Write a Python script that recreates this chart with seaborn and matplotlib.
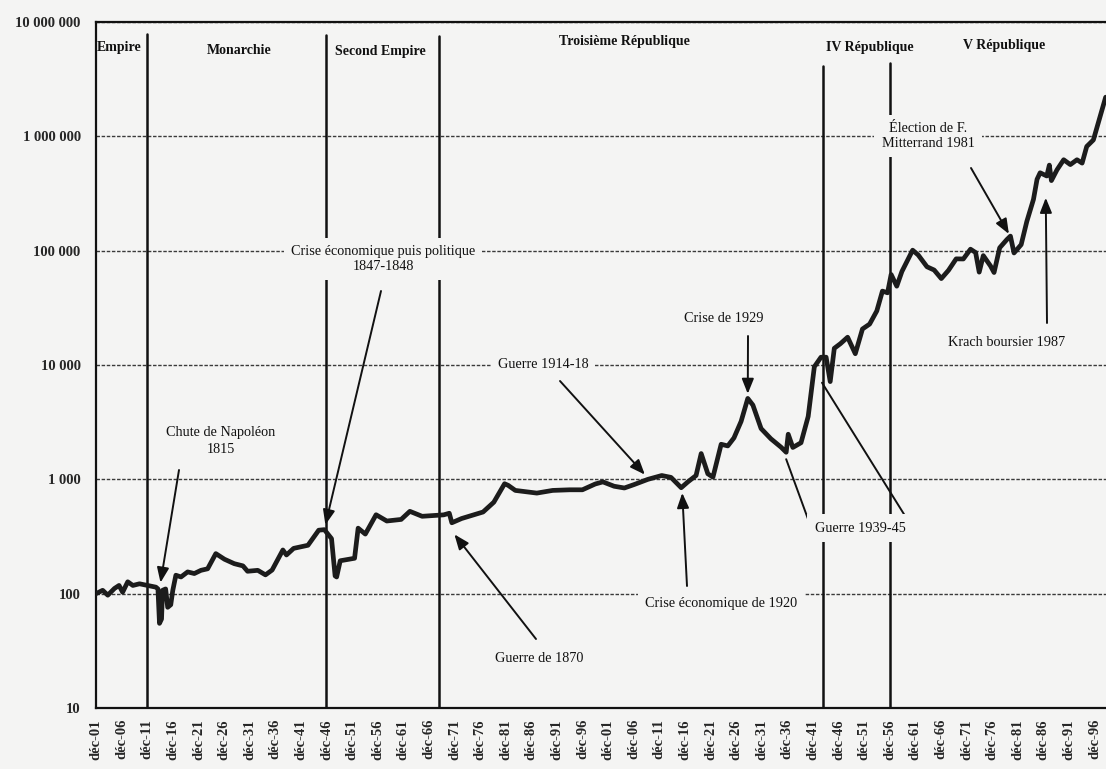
import pandas as pd
import seaborn as sns
import matplotlib.pyplot as plt
from matplotlib.ticker import FixedLocator, FuncFormatter, NullLocator

# Index values (base 100 in Dec 1801, log scale)
years = [1801.0, 1802.3, 1803.3, 1804.6, 1805.5, 1806.2, 1807.2, 1808.2, 1809.5, 1811.1,
         1812.7, 1813.1, 1813.4, 1813.8, 1814.0, 1814.6, 1815.0, 1815.6, 1816.0, 1816.6,
         1817.6, 1818.9, 1820.2, 1821.5, 1822.8, 1824.4, 1826.1, 1828.0, 1829.7, 1830.6,
         1832.6, 1834.1, 1835.4, 1837.5, 1838.2, 1839.6, 1842.4, 1844.5, 1845.6, 1847.0,
         1847.7, 1848.0, 1848.7, 1851.5, 1852.2, 1853.6, 1855.7, 1857.8, 1860.6, 1862.3,
         1864.7, 1868.9, 1870.0, 1870.5, 1872.4, 1876.6, 1878.7, 1880.8, 1881.5, 1882.9,
         1887.1, 1890.2, 1893.5, 1896.0, 1898.5, 1900.0, 1902.2, 1904.2, 1906.1, 1908.8,
         1911.5, 1913.3, 1915.3, 1916.6, 1918.2, 1919.2, 1920.5, 1921.5, 1923.1, 1924.4,
         1925.6, 1927.0, 1928.3, 1929.3, 1930.9, 1932.8, 1934.8, 1935.8, 1936.2, 1937.1,
         1938.7, 1940.1, 1941.3, 1942.6, 1943.6, 1944.4, 1945.2, 1946.4, 1947.8, 1949.3,
         1950.7, 1952.1, 1953.5, 1954.6, 1955.6, 1956.3, 1957.4, 1958.4, 1960.5, 1961.6,
         1963.3, 1964.7, 1966.1, 1967.5, 1969.0, 1970.4, 1971.8, 1972.8, 1973.5, 1974.3,
         1975.7, 1976.4, 1977.5, 1978.9, 1979.6, 1980.3, 1981.7, 1982.8, 1984.1, 1984.8,
         1985.4, 1986.7, 1987.2, 1987.6, 1988.7, 1990.0, 1991.3, 1992.6, 1993.6, 1994.5,
         1995.8, 1997.1, 1998.2]
index_values = [100, 107, 97, 111, 118, 103, 127, 118, 122, 118,
                114, 110, 55, 60, 107, 110, 76, 80, 107, 145,
                140, 155, 150, 160, 165, 224, 200, 183, 175, 157,
                160, 146, 161, 241, 218, 249, 265, 359, 363, 303,
                143, 140, 194, 204, 374, 332, 490, 432, 446, 525,
                475, 489, 505, 417, 454, 518, 631, 915, 886, 800,
                758, 800, 810, 810, 910, 950, 870, 840, 900, 1000,
                1080, 1040, 845, 950, 1080, 1680, 1118, 1045, 2026, 1960,
                2303, 3214, 5100, 4460, 2780, 2265, 1910, 1725, 2480, 1900,
                2090, 3550, 9650, 11700, 11700, 7160, 14000, 15370, 17500, 12550,
                20650, 22800, 29700, 44300, 42800, 61900, 48900, 65700, 101000, 91500,
                72300, 67700, 57000, 67300, 84800, 84600, 103000, 96300, 64900, 90500,
                73600, 64400, 106000, 125000, 134000, 95500, 113000, 180000, 281000, 421000,
                480000, 450000, 560000, 410000, 510000, 624000, 566000, 624000, 583000, 815000,
                930000, 1480000, 2200000]

# Political regimes
regime_breaks = [1811, 1846, 1868, 1943, 1956]
regime_names = ["Empire", "Monarchie", "Second Empire", "Troisième République",
                "IV République", "V République"]

# Events and the point of the curve each one points at
event_labels = ["Chute de Napoléon\n1815", "Crise économique puis politique\n1847-1848",
                "Guerre de 1870", "Guerre 1914-18", "Crise économique de 1920",
                "Crise de 1929", "Élection de F.\nMitterrand 1981", "Krach boursier 1987"]
event_years = [1813.6, 1845.8, 1871.0, 1908.2, 1915.5, 1928.3, 1979.3, 1986.5]
event_values = [125, 400, 330, 1100, 760, 5600, 140000, 290000]
war_label = "Guerre 1939-45"
war_years = [1935.8, 1942.8]
war_values = [1500, 7000]

tick_years = list(range(1801, 1997, 5))
tick_labels = [f"déc-{y % 100:02d}" for y in tick_years]
y_ticks = [10, 100, 1000, 10000, 100000, 1000000, 10000000]

# ---- layout / style ----
W, H = 1106, 769
bg = "#f4f4f3"
ink = "#111111"


def px(x, y):
    # position in figure pixels, measured from the top-left corner
    return (x, H - y)


sns.set_style("white")
plt.rcParams["font.family"] = ["Liberation Serif", "DejaVu Serif"]

df = pd.DataFrame({"year": years, "index": index_values})

fig = plt.figure(figsize=(W / 100, H / 100), dpi=100, facecolor=bg)
ax = fig.add_axes([96 / W, 61 / H, 1010 / W, 686 / H])
ax.set_facecolor(bg)

sns.lineplot(data=df, x="year", y="index", ax=ax, color="#1c1c1c", linewidth=3.4,
             estimator=None, sort=False, zorder=3)
ax.set_yscale("log")
ax.set_ylim(10, 1e7)
ax.set_xlim(1801, 1801 + 1010 / 5.12)

ax.yaxis.set_major_locator(FixedLocator(y_ticks))
ax.yaxis.set_minor_locator(NullLocator())
ax.yaxis.set_major_formatter(FuncFormatter(lambda v, p: f"{int(round(v)):,}".replace(",", " ")))
ax.set_xticks(tick_years)
ax.set_xticklabels(tick_labels, rotation=90, fontsize=10.5, fontweight="bold")
for lab in ax.get_yticklabels():
    lab.set_fontsize(10.5)
    lab.set_fontweight("bold")
ax.tick_params(axis="both", direction="out", length=4, width=1.2, color=ink, pad=4)
ax.tick_params(axis="y", pad=7)
ax.set_xlabel("")
ax.set_ylabel("")

ax.grid(axis="y", which="major", linestyle=(0, (2.5, 1.2)), linewidth=1.0, color="#3a3a3a")
ax.grid(axis="x", visible=False)
ax.set_axisbelow(True)
for side in ["left", "bottom", "top"]:
    ax.spines[side].set_visible(True)
    ax.spines[side].set_color(ink)
    ax.spines[side].set_linewidth(1.6)
ax.spines["right"].set_visible(False)

# regime boundaries
line_tops = [0.982, 0.981, 0.980, 0.936, 0.940]
for yr, top in zip(regime_breaks, line_tops):
    ax.axvline(yr, ymin=0, ymax=top, color=ink, linewidth=1.8, zorder=2)

regime_pos = [(119, 48), (239, 51), (380, 51), (624, 42), (870, 47), (1004, 46)]
for name, (x, y) in zip(regime_names, regime_pos):
    ax.annotate(name, xy=px(x, y), xycoords="figure pixels", ha="center", va="center",
                fontsize=10, fontweight="bold", color=ink, zorder=6)

# event labels and arrows
label_pos = [(221, 441), (383, 259), (539, 659), (543, 365), (721, 603),
             (724, 318), (928, 136), (1007, 343)]
label_spacing = [1.35, 1.25, 1.2, 1.2, 1.2, 1.2, 1.2, 1.2]
arrow_start = [(179, 470), (381, 291), (536, 639), (560, 381), (687, 586),
               (748, 336), (971, 168), (1047, 323)]
box = dict(boxstyle="square,pad=0.5", fc=bg, ec="none")
head = dict(arrowstyle="-|>,head_length=0.5,head_width=0.2", color=ink, lw=1.4,
            mutation_scale=18, shrinkA=0, shrinkB=0)

for lab, (x, y), ls in zip(event_labels, label_pos, label_spacing):
    ax.annotate(lab, xy=px(x, y), xycoords="figure pixels", ha="center", va="center",
                fontsize=10.3, color=ink, linespacing=ls, bbox=box, zorder=6)
for yr, val, (x, y) in zip(event_years, event_values, arrow_start):
    ax.annotate("", xy=(yr, val), xycoords="data", xytext=px(x, y),
                textcoords="figure pixels", arrowprops=head, zorder=4)

ax.annotate(war_label, xy=px(860, 528), xycoords="figure pixels", ha="center", va="center",
            fontsize=10.3, color=ink, bbox=box, zorder=6)
for yr, val, (x, y) in zip(war_years, war_values, [(808, 519), (907, 519)]):
    ax.annotate("", xy=(yr, val), xycoords="data", xytext=px(x, y),
                textcoords="figure pixels",
                arrowprops=dict(arrowstyle="-", color=ink, lw=1.4, shrinkA=0, shrinkB=0),
                zorder=4)

fig.savefig("out.png", dpi=100, facecolor=bg)
